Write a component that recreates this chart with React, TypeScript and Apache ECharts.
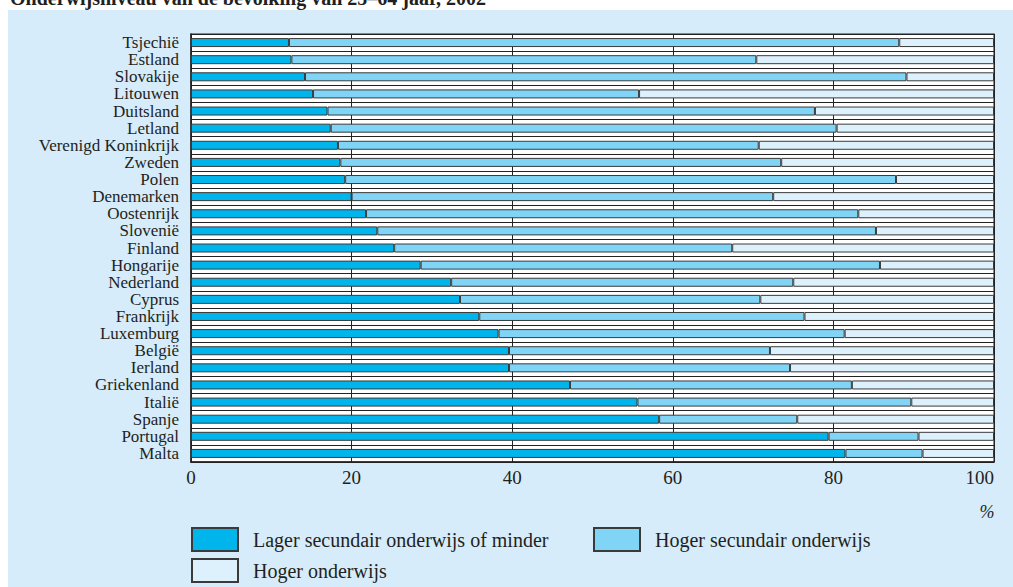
import React, { useEffect, useRef } from "react";
import * as echarts from "echarts";

const countries = [
  "Tsjechië", "Estland", "Slovakije", "Litouwen", "Duitsland", "Letland",
  "Verenigd Koninkrijk", "Zweden", "Polen", "Denemarken", "Oostenrijk", "Slovenië",
  "Finland", "Hongarije", "Nederland", "Cyprus", "Frankrijk", "Luxemburg",
  "België", "Ierland", "Griekenland", "Italië", "Spanje", "Portugal", "Malta",
];

const lagerSecundair = [
  12.2, 12.5, 14.2, 15.2, 17.0, 17.4, 18.3, 18.6, 19.2, 20.0, 21.8, 23.2,
  25.3, 28.6, 32.4, 33.5, 35.9, 38.3, 39.6, 39.6, 47.2, 55.6, 58.3, 79.4, 81.5,
];

const hogerSecundair = [
  76.0, 57.9, 74.9, 40.6, 60.7, 63.0, 52.4, 54.9, 68.6, 52.5, 61.3, 62.1,
  42.1, 57.2, 42.6, 37.4, 40.5, 43.1, 32.5, 35.0, 35.1, 34.1, 17.2, 11.2, 9.6,
];

const hogerOnderwijs = [
  11.8, 29.6, 10.9, 44.2, 22.3, 19.6, 29.3, 26.5, 12.2, 27.5, 16.9, 14.7,
  32.6, 14.2, 25.0, 29.1, 23.6, 18.6, 27.9, 25.4, 17.7, 10.3, 24.5, 9.4, 8.9,
];

const seriesNames = [
  "Lager secundair onderwijs of minder",
  "Hoger secundair onderwijs",
  "Hoger onderwijs",
];

const xTicks = [0, 20, 40, 60, 80, 100];

const titleText = "Onderwijsniveau van de bevolking van 25–64 jaar, 2002";

const SERIF = "'Liberation Serif', 'DejaVu Serif', serif";
const colors = ["#00b5ec", "#80d4f6", "#ddf1fd"];

export default function App() {
  const ref = useRef<HTMLDivElement>(null);

  useEffect(() => {
    document.body.style.margin = "0";
    const chart = echarts.init(ref.current!, undefined, { renderer: "svg" });
    const values = [lagerSecundair, hogerSecundair, hogerOnderwijs];

    const legendPos = [
      { left: 191, top: 527 },
      { left: 593, top: 527 },
      { left: 191, top: 558 },
    ];

    chart.setOption({
      animation: false,
      backgroundColor: "#ffffff",
      title: {
        text: titleText,
        left: 10,
        top: -12,
        padding: 0,
        textStyle: {
          fontFamily: SERIF,
          fontWeight: "bold",
          fontSize: 20,
          color: "#231f20",
        },
      },
      graphic: [
        {
          type: "rect",
          z: -10,
          silent: true,
          shape: { x: 8, y: 10, width: 1013, height: 587 },
          style: { fill: "#d6ecfa" },
        },
        {
          type: "text",
          x: 987,
          y: 512,
          style: {
            text: "%",
            font: "italic 18px " + SERIF,
            fill: "#231f20",
            textAlign: "center",
            textVerticalAlign: "middle",
          },
        },
      ],
      legend: seriesNames.map((n, i) => ({
        data: [n],
        left: legendPos[i].left,
        top: legendPos[i].top,
        padding: 0,
        itemWidth: 46,
        itemHeight: 23,
        icon: "rect",
        selectedMode: false,
        textStyle: {
          fontFamily: SERIF,
          fontSize: 20,
          color: "#231f20",
          padding: [6, 0, 0, 10],
        },
      })),
      grid: {
        left: 191,
        right: 19,
        top: 34,
        bottom: 125,
        show: true,
        backgroundColor: "#ffffff",
        borderColor: "#666666",
        borderWidth: 1.5,
      },
      xAxis: {
        type: "value",
        min: 0,
        max: 100,
        interval: 20,
        axisLine: { show: true, lineStyle: { color: "#222", width: 1.5 } },
        axisTick: { show: false },
        splitLine: { show: true, lineStyle: { color: "#222", width: 1 } },
        axisLabel: {
          margin: 6,
          fontFamily: SERIF,
          fontSize: 19,
          color: "#231f20",
          alignMaxLabel: "right",
          formatter: (v: number) => (xTicks.includes(v) ? String(v) : ""),
        },
      },
      yAxis: {
        type: "category",
        data: countries,
        inverse: true,
        axisLine: { show: true, lineStyle: { color: "#222", width: 1.5 } },
        axisTick: { show: false },
        splitLine: { show: true, lineStyle: { color: "#222", width: 1 } },
        axisLabel: {
          margin: 12,
          fontFamily: SERIF,
          fontSize: 17,
          color: "#231f20",
          interval: 0,
        },
      },
      series: seriesNames.map((n, i) => ({
        name: n,
        type: "bar",
        stack: "total",
        barWidth: 9,
        data: values[i],
        itemStyle: {
          color: colors[i],
          borderColor: "#3a3a3a",
          borderWidth: 1,
        },
      })),
    });

    return () => chart.dispose();
  }, []);

  return <div ref={ref} style={{ width: 1013, height: 587 }} />;
}
